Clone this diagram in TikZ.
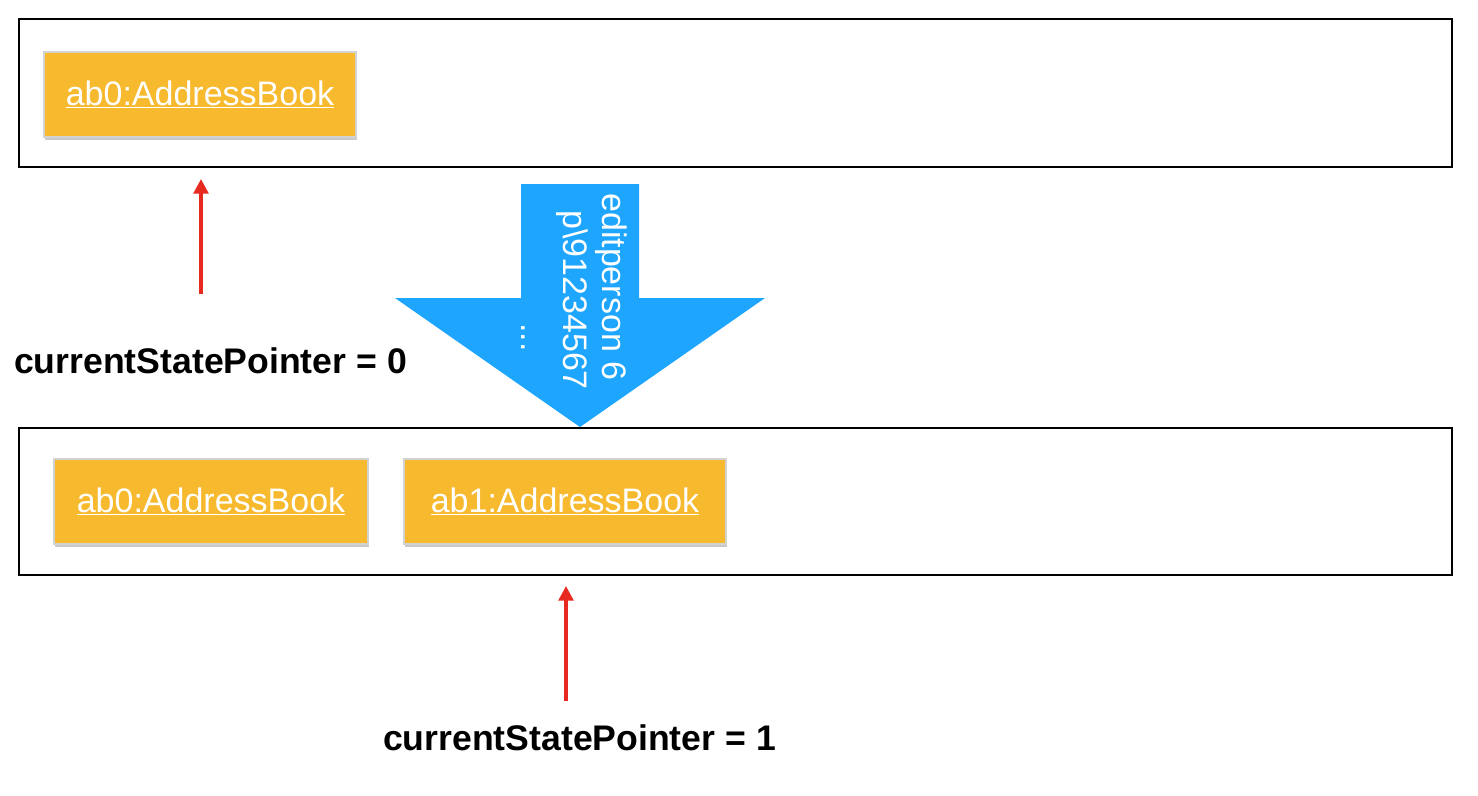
\documentclass[tikz,border=0pt]{standalone}
\usepackage{fontspec}
\setmainfont{Liberation Sans}
\usetikzlibrary{arrows.meta,shadows}
\definecolor{abfill}{HTML}{F7B92D}
\definecolor{abedge}{HTML}{D2D2D2}
\definecolor{cmdblue}{HTML}{1EA5FD}
\definecolor{ptrred}{HTML}{E8291F}
\tikzset{
  frame/.style={draw=black, line width=1.5pt, minimum width=1074.75pt, inner sep=0pt},
  abbox/.style={fill=abfill, draw=abedge, line width=2.2pt, minimum height=63.75pt, inner sep=0pt,
    text=white, font=\fontsize{25.5pt}{30pt}\selectfont,
    drop shadow={opacity=0.3, shadow xshift=0.8pt, shadow yshift=-2pt, fill=black!70}},
  ptrlabel/.style={font=\fontsize{26.7pt}{32pt}\selectfont\bfseries, inner sep=0pt},
  ptrarrow/.style={draw=ptrred, line width=2.6pt, -{Triangle[length=11pt,width=11pt]}},
  cmdtext/.style={text=white, rotate=-90, anchor=base west, inner sep=0pt, font=\fontsize{25.5pt}{30pt}\selectfont}
}
\begin{document}
\begin{tikzpicture}[x=0.75pt,y=-0.75pt]
\useasboundingbox (0,0) rectangle (1478,796);
% frames
\node[frame, minimum height=111pt] (frame0) at (735.5,93) {};
\node[frame, minimum height=110.25pt] (frame1) at (735.5,501.5) {};
% address books
\node[abbox, minimum width=234pt] (s0ab0) at (200,94.5) {\underline{ab0:AddressBook}};
\node[abbox, minimum width=235.5pt] (s1ab0) at (211,501.5) {\underline{ab0:AddressBook}};
\node[abbox, minimum width=241.5pt] (s1ab1) at (565,501.5) {\underline{ab1:AddressBook}};
% command arrow
\fill[cmdblue] (521,184) -- (639,184) -- (639,298) -- (765,298) -- (580,427) -- (395,298) -- (521,298) -- cycle;
\node[cmdtext] (cmd1) at (602,193) {editperson 6};
\node[cmdtext] (cmd2) at (563,210) {p\textbackslash 91234567};
\node[cmdtext] (cmd3) at (521,323) {...};
% pointers
\node[ptrlabel] (lbl0) at (210.5,361) {currentStatePointer = 0};
\node[ptrlabel] (lbl1) at (579.5,738) {currentStatePointer = 1};
\coordinate (p0tail) at (201,294);
\coordinate (p0head) at (201,179);
\coordinate (p1tail) at (566,701);
\coordinate (p1head) at (566,586);
\draw[ptrarrow] (p0tail) -- (p0head);
\draw[ptrarrow] (p1tail) -- (p1head);
\end{tikzpicture}
\end{document}
